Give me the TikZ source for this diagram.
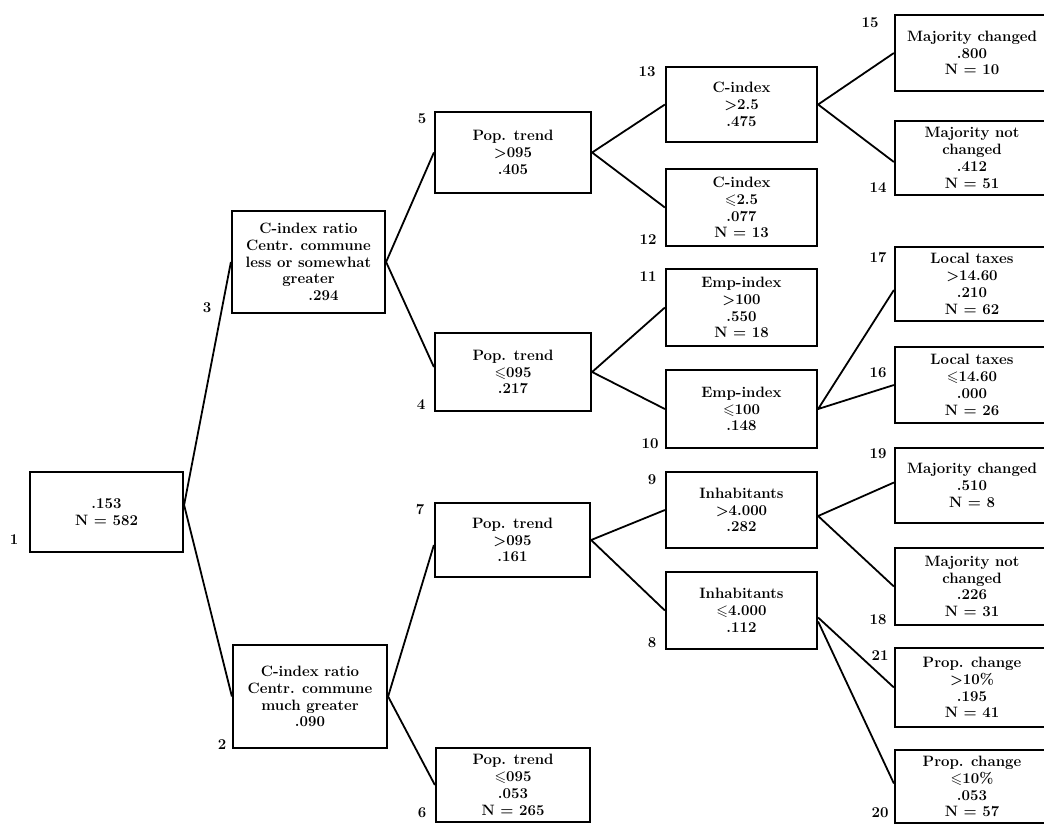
\documentclass[tikz,border=0pt]{standalone}
\usepackage{amssymb}
\newcommand\boxfont{\bfseries\boldmath\fontsize{15}{16.8}\selectfont}
\newcommand\gtr{$>$}
\newcommand\leqs{$\leqslant$}
\tikzset{
  box/.style={draw, line width=2.2pt, inner sep=0pt, align=center, font=\boxfont},
  conn/.style={line width=1.8pt},
  num/.style={font=\bfseries\fontsize{15}{15}\selectfont, inner sep=0pt}
}
\begin{document}
\begin{tikzpicture}[x=1pt,y=-1pt]
\useasboundingbox (0,0) rectangle (1044,823);
\fill[white] (0,0) rectangle (1044,823);
\clip (0,0) rectangle (1044,823);

% column 1
\node[box,minimum width=153pt,minimum height=80pt] (b1) at (106.5,512) {.153\\N = 582};
% column 2
\node[box,minimum width=153pt,minimum height=102pt] (b3) at (308.5,262) {C-index ratio\\Centr. commune\\less or somewhat\\greater\\\hspace*{30pt}.294};
\node[box,minimum width=154pt,minimum height=103pt] (b2) at (310,696.5) {C-index ratio\\Centr. commune\\much greater\\.090};
% column 3
\node[box,minimum width=156pt,minimum height=81pt] (b5) at (513,152.5) {Pop. trend\\\gtr095\\.405};
\node[box,minimum width=156pt,minimum height=78pt] (b4) at (513,372) {Pop. trend\\\leqs095\\.217};
\node[box,minimum width=155pt,minimum height=74pt] (b7) at (512.5,540) {Pop. trend\\\gtr095\\.161};
\node[box,minimum width=154pt,minimum height=74pt] (b6) at (513,785) {Pop. trend\\\leqs095\\.053\\N = 265};
% column 4
\node[box,minimum width=151pt,minimum height=75pt] (b13) at (741.5,104.5) {C-index\\\gtr2.5\\.475};
\node[box,minimum width=151pt,minimum height=77pt] (b12) at (741.5,207.5) {C-index\\\leqs2.5\\.077\\N = 13};
\node[box,minimum width=151pt,minimum height=77pt] (b11) at (741.5,307.5) {Emp-index\\\gtr100\\.550\\N = 18};
\node[box,minimum width=151pt,minimum height=78pt] (b10) at (741.5,409) {Emp-index\\\leqs100\\.148};
\node[box,minimum width=151pt,minimum height=76pt] (b9) at (741.5,510) {Inhabitants\\\gtr4.000\\.282};
\node[box,minimum width=151pt,minimum height=77pt] (b8) at (741.5,610.5) {Inhabitants\\\leqs4.000\\.112};
% column 5
\node[box,minimum width=154pt,minimum height=76pt] (b15) at (972,53) {Majority changed\\.800\\N = 10};
\node[box,minimum width=154pt,minimum height=74pt] (b14) at (972,158) {Majority not\\changed\\.412\\N = 51};
\node[box,minimum width=154pt,minimum height=74pt] (b17) at (972,284) {Local taxes\\\gtr14.60\\.210\\N = 62};
\node[box,minimum width=154pt,minimum height=76pt] (b16) at (972,385) {Local taxes\\\leqs14.60\\.000\\N = 26};
\node[box,minimum width=154pt,minimum height=75pt] (b19) at (972,485.5) {Majority changed\\.510\\N = 8};
\node[box,minimum width=154pt,minimum height=77pt] (b18) at (972,586.5) {Majority not\\changed\\.226\\N = 31};
\node[box,minimum width=154pt,minimum height=79pt] (b21) at (972,687.5) {Prop. change\\\gtr10\%\\.195\\N = 41};
\node[box,minimum width=154pt,minimum height=73pt] (b20) at (972,786.5) {Prop. change\\\leqs10\%\\.053\\N = 57};

% numbers
\node[num] (n1) at (14,540) {1};
\node[num] (n3) at (207,308) {3};
\node[num] (n2) at (222,745) {2};
\node[num] (n5) at (422,119) {5};
\node[num] (n4) at (421,405) {4};
\node[num] (n7) at (420,510) {7};
\node[num] (n6) at (422,813) {6};
\node[num] (n13) at (647,72) {13};
\node[num] (n12) at (648,240) {12};
\node[num] (n11) at (648,277) {11};
\node[num] (n10) at (650,444) {10};
\node[num] (n9) at (652,480) {9};
\node[num] (n8) at (652,643) {8};
\node[num] (n15) at (870,23) {15};
\node[num] (n14) at (878,188) {14};
\node[num] (n17) at (878,258) {17};
\node[num] (n16) at (878,373) {16};
\node[num] (n19) at (878,454) {19};
\node[num] (n18) at (878,620) {18};
\node[num] (n21) at (880,656) {21};
\node[num] (n20) at (880,813) {20};

% connectors
\draw[conn] (b3.west) -- ([yshift=7pt]b1.east) -- (b2.west);
\draw[conn] (b5.west) -- (b3.east) -- ([yshift=5pt]b4.west);
\draw[conn] ([yshift=-5pt]b7.west) -- (b2.east) -- (b6.west);
\draw[conn] (b13.west) -- (b5.east) -- (b12.west);
\draw[conn] (b11.west) -- (b4.east) -- (b10.west);
\draw[conn] (b9.west) -- (b7.east) -- (b8.west);
\draw[conn] (b15.west) -- (b13.east) -- ([yshift=-4pt]b14.west);
\draw[conn] ([yshift=-6pt]b17.west) -- (b10.east) -- (b16.west);
\draw[conn] ([yshift=3pt]b19.west) -- ([yshift=-6pt]b9.east) -- (b18.west);
\draw[conn] ([yshift=-7pt]b8.east) -- (b21.west);
\draw[conn] ([yshift=-11pt]b8.east) -- ([yshift=3pt]b20.west);
\end{tikzpicture}
\end{document}
